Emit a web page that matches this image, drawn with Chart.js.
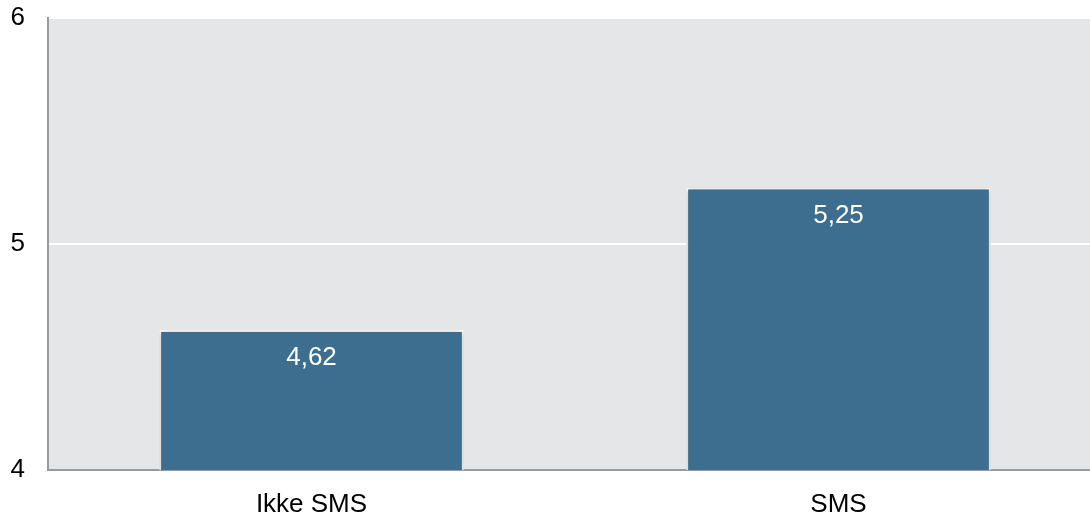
<!DOCTYPE html>
<html><head><meta charset="utf-8">
<script src="https://cdn.jsdelivr.net/npm/chart.js@4/dist/chart.umd.min.js"></script>
<style>html,body{margin:0;padding:0;overflow:hidden;background:#fff}#wrap{width:1102px;height:515px}</style>
</head><body>
<div id="wrap"><canvas id="c" width="1102" height="515"></canvas></div>
<script>
const categories = ["Ikke SMS", "SMS"];
const values = [4.62, 5.25];
const yTicks = [4, 5, 6];
const FONT = "'Liberation Sans', Arial, sans-serif";

const bgPlugin = {
  id: 'bg',
  beforeDraw(chart) {
    const a = chart.chartArea, ctx = chart.ctx;
    ctx.save(); ctx.fillStyle = '#e5e6e8';
    ctx.fillRect(a.left, a.top, a.right - a.left, a.bottom - a.top);
    ctx.restore();
  },
  beforeDatasetsDraw(chart) {
    chart.ctx.save();
    chart.ctx.shadowColor = 'rgba(0,0,0,0.3)';
    chart.ctx.shadowBlur = 5;
  },
  afterDatasetsDraw(chart) {
    const ctx = chart.ctx;
    ctx.restore();
    const meta = chart.getDatasetMeta(0);
    ctx.save();
    ctx.fillStyle = '#ffffff';
    ctx.font = '26px ' + FONT;
    ctx.textAlign = 'center'; ctx.textBaseline = 'middle';
    meta.data.forEach((bar, i) => {
      ctx.fillText(values[i].toFixed(2).replace('.', ','), bar.x, bar.y + 28);
    });
    ctx.restore();
  }
};

new Chart(document.getElementById('c'), {
  type: 'bar',
  data: { labels: categories, datasets: [{ data: values, backgroundColor: '#3d6e8f', borderColor: '#ffffff', borderWidth: 2, borderSkipped: 'bottom', barPercentage: 0.578, categoryPercentage: 1 }] },
  options: {
    responsive: false, animation: false,
    layout: { padding: { top: 18, right: 0, left: 0, bottom: 0 } },
    plugins: { legend: { display: false }, tooltip: { enabled: false } },
    scales: {
      x: {
        grid: { display: false, drawTicks: false },
        border: { display: true, color: '#9a9a9a', width: 2 },
        ticks: { color: '#000', font: { family: FONT, size: 26 }, padding: 19, maxRotation: 0 },
        afterFit(s) { s.height = 45; s.paddingLeft = 0; s.paddingRight = 0; }
      },
      y: {
        min: 4, max: 6,
        afterBuildTicks(s) { s.ticks = yTicks.map(v => ({ value: v })); },
        grid: { color: '#ffffff', lineWidth: 2, drawTicks: false },
        border: { display: true, color: '#9a9a9a', width: 2 },
        ticks: { color: '#000', font: { family: FONT, size: 26 }, padding: 23 },
        afterFit(s) { s.width = 48; s.paddingTop = 0; s.paddingBottom = 0; }
      }
    }
  },
  plugins: [bgPlugin]
});
</script>
</body></html>
